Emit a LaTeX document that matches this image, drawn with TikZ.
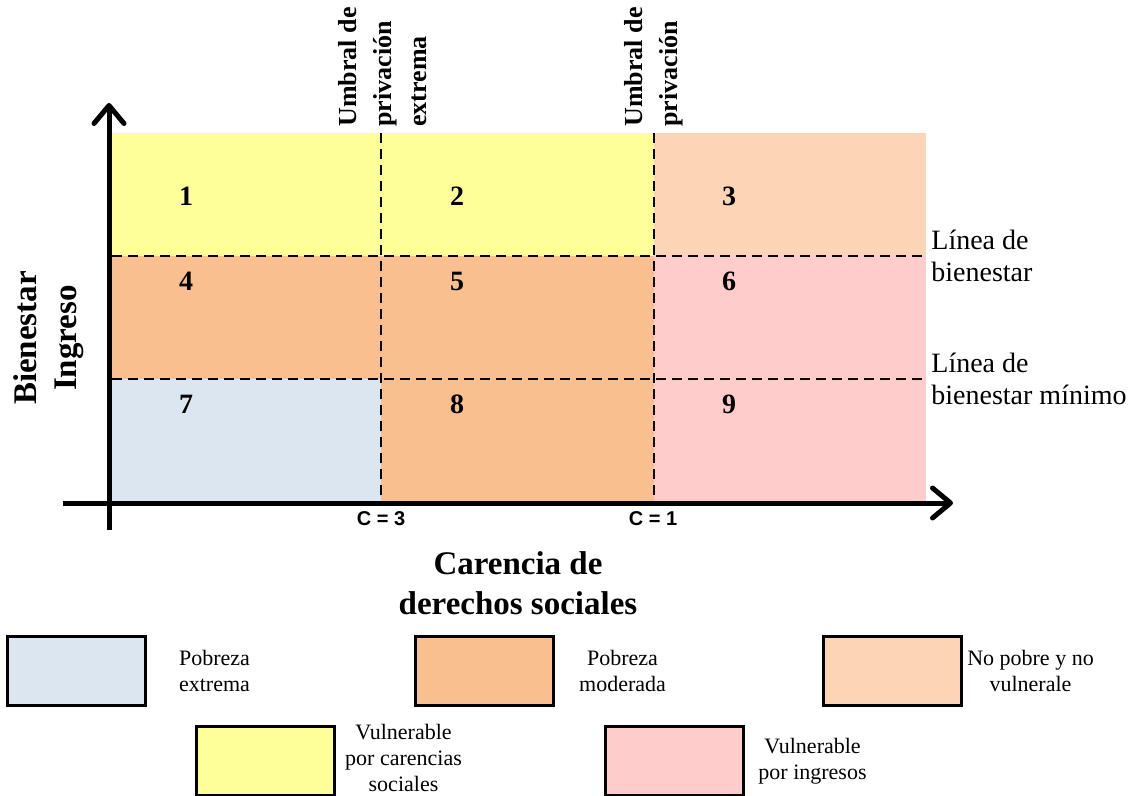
\documentclass[tikz,border=0pt]{standalone}
\usepackage{fontspec}
\setmainfont{Liberation Serif}
\newfontfamily\labelsans{Liberation Sans}
\usetikzlibrary{arrows.meta, positioning}

\definecolor{vulcar}{HTML}{FFFF99}
\definecolor{nopobre}{HTML}{FBD5B5}
\definecolor{pobmod}{HTML}{F9BF8F}
\definecolor{vuling}{HTML}{FFCCCC}
\definecolor{pobext}{HTML}{DCE6F1}

\tikzset{
  cellnum/.style={inner sep=0pt, font=\fontsize{14}{16}\selectfont\bfseries},
  umbral/.style={rotate=90, anchor=west, align=left, inner sep=0pt, font=\fontsize{13}{17.5}\selectfont\bfseries},
  linea/.style={anchor=west, align=left, inner sep=0pt, font=\fontsize{14}{16}\selectfont},
  axistitle/.style={align=center, inner sep=0pt, font=\fontsize{16.5}{20}\selectfont\bfseries},
  cval/.style={inner sep=0pt, font=\labelsans\fontsize{10}{12}\selectfont\bfseries},
  legbox/.style={draw, line width=1.5pt, minimum width=69pt, minimum height=34.5pt, inner sep=0pt},
  legtext/.style={align=center, inner sep=0pt, font=\fontsize{11}{13}\selectfont},
  cutline/.style={line width=1pt, dash pattern=on 5pt off 3pt},
  axisline/.style={line width=2.5pt, -{Straight Barb[length=9pt, width=15pt, round]}}
}

\begin{document}
\begin{tikzpicture}[x=0.5pt, y=-0.5pt]
\useasboundingbox (0,0) rectangle (1134,796);

% Regions
\fill[vulcar] (112,133) rectangle (654,256);
\fill[nopobre] (654,133) rectangle (926,256);
\fill[pobmod] (112,256) rectangle (654,379);
\fill[vuling] (654,256) rectangle (926,502);
\fill[pobext] (112,379) rectangle (381,502);
\fill[pobmod] (381,379) rectangle (654,502);

% Thresholds
\draw[cutline] (381,133) -- (381,502);
\draw[cutline] (654,133) -- (654,502);
\draw[cutline] (112,256) -- (926,256);
\draw[cutline] (112,379) -- (926,379);

% Axes
\draw[axisline] (109,530) -- (109,103);
\draw[axisline] (63,503) -- (953,503);

% Cell numbers
\node[cellnum] (n1) at (186,196) {1};
\node[cellnum] (n2) at (457,196) {2};
\node[cellnum] (n3) at (729,196) {3};
\node[cellnum] (n4) at (186,281) {4};
\node[cellnum] (n5) at (457,281) {5};
\node[cellnum] (n6) at (729,281) {6};
\node[cellnum] (n7) at (186,404) {7};
\node[cellnum] (n8) at (457,404) {8};
\node[cellnum] (n9) at (729,404) {9};

% Threshold labels
\node[umbral] (u1) at (383,127) {Umbral de\\privación\\extrema};
\node[umbral] (u2) at (654,127) {Umbral de\\privación};
\node[linea] (l1) at (931,256) {Línea de\\bienestar};
\node[linea] (l2) at (931,379) {Línea de\\bienestar mínimo};
\node[cval] (c3) at (381,519) {C = 3};
\node[cval] (c1) at (653,519) {C = 1};

% Axis titles
\node[axistitle, rotate=90] (ytitle) at (49,338) {Bienestar\\Ingreso};
\node[axistitle] (xtitle) at (518,583) {Carencia de\\derechos sociales};

% Legend
\node[legbox, fill=pobext] (b1) at (76,671) {};
\node[legtext] (t1) at ([xshift=34pt]b1.east) {Pobreza\\extrema};
\node[legbox, fill=pobmod] (b2) at (484,671) {};
\node[legtext] (t2) at ([xshift=34pt]b2.east) {Pobreza\\moderada};
\node[legbox, fill=nopobre] (b3) at (892,671) {};
\node[legtext] (t3) at ([xshift=34pt]b3.east) {No pobre y no\\vulnerale};
\node[legbox, fill=vulcar] (b4) at (265,761) {};
\node[legtext] (t4) at ([xshift=34pt, yshift=1.5pt]b4.east) {Vulnerable\\por carencias\\sociales};
\node[legbox, fill=vuling] (b5) at (674,761) {};
\node[legtext] (t5) at ([xshift=34pt]b5.east) {Vulnerable\\por ingresos};
\end{tikzpicture}
\end{document}
